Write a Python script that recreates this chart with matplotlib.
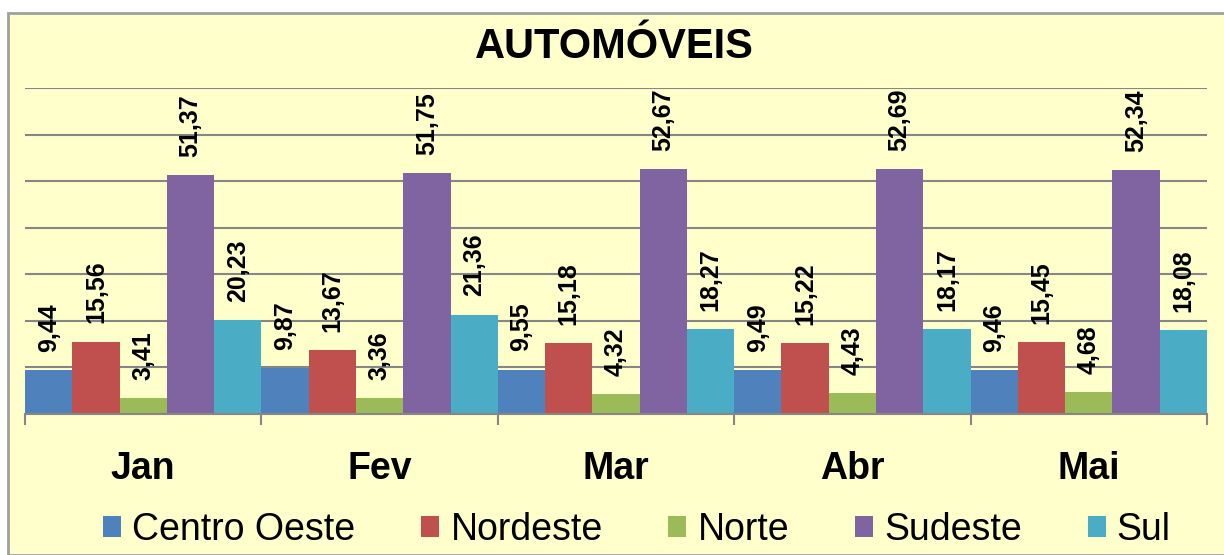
import matplotlib.pyplot as plt
from matplotlib.patches import Rectangle, Patch
import numpy as np

plt.rcParams['font.family'] = ['Liberation Sans', 'DejaVu Sans']

# dados
meses = ["Jan", "Fev", "Mar", "Abr", "Mai"]
regioes = ["Centro Oeste", "Nordeste", "Norte", "Sudeste", "Sul"]
centro_oeste = [9.44, 9.87, 9.55, 9.49, 9.46]
nordeste = [15.56, 13.67, 15.18, 15.22, 15.45]
norte = [3.41, 3.36, 4.32, 4.43, 4.68]
sudeste = [51.37, 51.75, 52.67, 52.69, 52.34]
sul = [20.23, 21.36, 18.27, 18.17, 18.08]
cores = ["#4F81BD", "#C0504D", "#9BBB59", "#8064A2", "#4BACC6"]

series = [centro_oeste, nordeste, norte, sudeste, sul]

W, H = 1224, 555
fig = plt.figure(figsize=(W / 100, H / 100), dpi=100)
fig.patch.set_facecolor("white")

# moldura do grafico
fig.patches.append(Rectangle((8 / W, 0), 1.0, (H - 13) / H, transform=fig.transFigure,
                             facecolor="#FFFFCC", edgecolor="#A0A0A0", linewidth=2, zorder=-1))

ax = fig.add_axes([25 / W, (H - 414) / H, (1207 - 25) / W, (414 - 88) / H])
ax.set_facecolor("none")

x = np.arange(len(meses))
largura = 1.0 / len(series)
for i, (vals, cor) in enumerate(zip(series, cores)):
    pos = x - 0.5 + largura * (i + 0.5)
    ax.bar(pos, vals, width=largura, color=cor, zorder=3)
    for px, v in zip(pos, vals):
        ax.annotate(f"{v:.2f}".replace(".", ","), (px, v), xytext=(0, 13),
                    textcoords="offset points", rotation=90, ha="center", va="bottom",
                    fontsize=18, fontweight="bold", zorder=4)

ax.set_xlim(-0.5, len(meses) - 0.5)
ax.set_ylim(0, 70)
ax.set_yticks(np.arange(0, 71, 10))
ax.yaxis.grid(True, color="#868686", linewidth=1.5, zorder=1)
ax.tick_params(axis="y", left=False, labelleft=False)

ax.set_xticks(np.arange(len(meses) + 1) - 0.5)
ax.set_xticklabels([])
ax.tick_params(axis="x", direction="out", length=8, width=1.5, color="#868686")
for xi, m in zip(x, meses):
    ax.text(xi, -11.9, m, ha="center", va="center", fontsize=27, fontweight="bold")

for s in ["top", "right", "left"]:
    ax.spines[s].set_visible(False)
ax.spines["bottom"].set_color("#868686")
ax.spines["bottom"].set_linewidth(1.5)
ax.spines["bottom"].set_zorder(5)

fig.text(614 / W, (H - 47) / H, "AUTOMÓVEIS", ha="center", va="center",
         fontsize=30, fontweight="bold")

handles = [Patch(facecolor=c, edgecolor="none") for c in cores]
fig.legend(handles, regioes, loc="center", bbox_to_anchor=(637 / W, (H - 530) / H),
           ncol=5, frameon=False, fontsize=27, handlelength=0.48, handleheight=0.48,
           handletextpad=0.3, columnspacing=1.75, borderpad=0)

plt.savefig("out.png", dpi=100)
